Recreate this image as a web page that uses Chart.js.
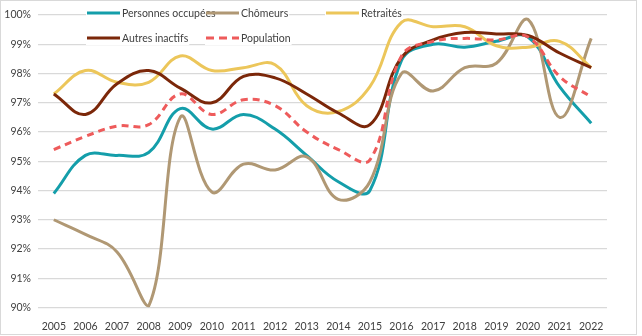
<!DOCTYPE html>
<html>
<head>
<meta charset="utf-8">
<script src="https://cdn.jsdelivr.net/npm/chart.js@4/dist/chart.umd.min.js"></script>
<style>
  html, body { margin: 0; padding: 0; background: #fff; }
  #wrap { width: 642px; height: 336px; position: relative; }
</style>
</head>
<body>
<div id="wrap"><canvas id="chart"></canvas></div>
<script>
const years = ['2005', '2006', '2007', '2008', '2009', '2010', '2011', '2012', '2013',
  '2014', '2015', '2016', '2017', '2018', '2019', '2020', '2021', '2022'];

const occupees = [93.9, 95.2, 95.2, 95.3, 96.8, 96.1, 96.6, 96.1, 95.2,
  94.3, 94.0, 98.45, 99.0, 98.9, 99.1, 99.25, 97.55, 96.3];
const chomeurs = [93.0, 92.5, 91.9, 90.05, 96.5, 93.95, 94.9, 94.7, 95.15,
  93.7, 94.3, 98.0, 97.4, 98.2, 98.35, 99.85, 96.5, 99.2];
const retraites = [97.3, 98.1, 97.7, 97.7, 98.6, 98.1, 98.2, 98.3, 96.9,
  96.7, 97.55, 99.75, 99.6, 99.6, 98.95, 98.9, 99.1, 98.2];
const autresInactifs = [97.3, 96.6, 97.65, 98.1, 97.5, 97.0, 97.9, 97.85, 97.3,
  96.65, 96.25, 98.55, 99.15, 99.4, 99.35, 99.3, 98.7, 98.2];
const population = [95.4, 95.85, 96.2, 96.25, 97.3, 96.6, 97.1, 96.9, 96.0,
  95.4, 95.05, 98.6, 99.1, 99.2, 99.15, 99.25, 97.9, 97.2];

const FONT = "Lato, 'Liberation Sans', sans-serif";

// first series at the bottom, last one on top
function line(label, data, color, order, dash) {
  return {
    label: label,
    data: data,
    borderColor: color,
    backgroundColor: color,
    borderWidth: 3,
    borderDash: dash || [],
    pointRadius: 0,
    tension: 0.4,
    fill: false,
    order: order
  };
}

// legend drawn by hand: three columns, two rows, over the plot
const legendSlots = [
  { x: 87, y: 13 }, { x: 206, y: 13 }, { x: 326, y: 13 },
  { x: 87, y: 38 }, { x: 206, y: 38 }
];

const excelLegend = {
  id: 'excelLegend',
  afterDraw(chart) {
    const ctx = chart.ctx;
    ctx.save();
    ctx.font = '10.5px ' + FONT;
    ctx.textBaseline = 'middle';
    chart.data.datasets.forEach((ds, i) => {
      const s = legendSlots[i];
      const w = ctx.measureText(ds.label).width;
      ctx.fillStyle = '#fff';
      ctx.fillRect(s.x - 1, s.y - 7, 37 + w, 14);
    });
    chart.data.datasets.forEach((ds, i) => {
      const s = legendSlots[i];
      ctx.strokeStyle = ds.borderColor;
      ctx.lineWidth = 3;
      ctx.setLineDash(ds.borderDash.length ? [8, 5] : []);
      ctx.beginPath();
      ctx.moveTo(s.x, s.y);
      ctx.lineTo(s.x + 33, s.y);
      ctx.stroke();
      ctx.setLineDash([]);
      ctx.fillStyle = '#404040';
      ctx.fillText(ds.label, s.x + 35, s.y + 0.5);
    });
    ctx.restore();
  }
};

const frame = {
  id: 'frame',
  beforeDraw(chart) {
    const ctx = chart.ctx;
    ctx.save();
    ctx.fillStyle = '#fff';
    ctx.fillRect(0, 0, chart.width, chart.height);
    ctx.strokeStyle = '#d9d9d9';
    ctx.lineWidth = 1;
    ctx.strokeRect(0.5, 0.5, 636, 334);
    ctx.restore();
  }
};

new Chart(document.getElementById('chart'), {
  type: 'line',
  data: {
    labels: years,
    datasets: [
      line('Personnes occupées', occupees, '#149eaa', 5),
      line('Chômeurs', chomeurs, '#b09874', 4),
      line('Retraités', retraites, '#ecc65a', 3),
      line('Autres inactifs', autresInactifs, '#7b2709', 2),
      line('Population', population, '#ee5b5b', 1, [7, 5])
    ]
  },
  options: {
    responsive: true,
    maintainAspectRatio: false,
    animation: false,
    layout: { padding: { left: 0, right: 35, top: 15, bottom: 0 } },
    plugins: {
      legend: { display: false },
      tooltip: { enabled: false }
    },
    scales: {
      x: {
        offset: true,
        grid: { display: false },
        border: { display: false },
        ticks: {
          color: '#404040',
          font: { family: FONT, size: 10.5 },
          maxRotation: 0,
          autoSkip: false,
          padding: 5
        },
        afterFit(scale) { scale.height = 28.5; }
      },
      y: {
        min: 90,
        max: 100,
        grid: { color: '#d9d9d9', lineWidth: 1.3, drawTicks: false },
        border: { display: false },
        ticks: {
          stepSize: 1,
          color: '#404040',
          font: { family: FONT, size: 10.5 },
          padding: 7,
          callback: v => v + '%'
        },
        afterFit(scale) { scale.width = 38; }
      }
    }
  },
  plugins: [frame, excelLegend]
});
</script>
</body>
</html>
